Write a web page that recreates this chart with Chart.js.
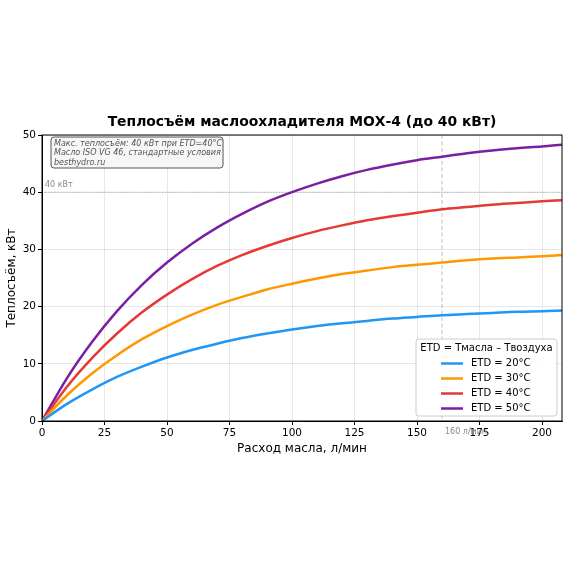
<!DOCTYPE html>
<html>
<head>
<meta charset="utf-8">
<script src="https://cdn.jsdelivr.net/npm/chart.js@4.4.0/dist/chart.umd.min.js"></script>
<style>
  html, body { margin: 0; padding: 0; background: #fff; }
  #wrap { width: 570px; height: 570px; position: relative; }
</style>
</head>
<body>
<div id="wrap"><canvas id="oilChart"></canvas></div>
<script>
// ===================== DATA =====================
const flowRates = [0, 10, 20, 30, 40, 50, 60, 70, 80, 90, 100, 110, 120, 130, 140, 150, 160, 170, 180, 190, 200, 208];
const etd20 = [0, 3.0, 5.5, 7.7, 9.5, 11.1, 12.4, 13.5, 14.5, 15.3, 16.0, 16.6, 17.1, 17.5, 17.9, 18.2, 18.5, 18.7, 18.9, 19.1, 19.2, 19.3];
const etd30 = [0, 4.5, 8.3, 11.5, 14.3, 16.6, 18.6, 20.3, 21.7, 23.0, 24.0, 24.9, 25.7, 26.3, 26.9, 27.3, 27.7, 28.1, 28.4, 28.6, 28.8, 29.0];
const etd40 = [0, 6.0, 11.0, 15.3, 19.0, 22.1, 24.8, 27.1, 29.0, 30.6, 32.0, 33.2, 34.2, 35.1, 35.8, 36.4, 37.0, 37.4, 37.8, 38.1, 38.4, 38.6];
const etd50 = [0, 7.5, 13.8, 19.2, 23.8, 27.7, 31.0, 33.8, 36.2, 38.3, 40.0, 41.5, 42.8, 43.9, 44.8, 45.6, 46.2, 46.8, 47.3, 47.7, 48.0, 48.3];
const seriesLabels = ["ETD = 20°C", "ETD = 30°C", "ETD = 40°C", "ETD = 50°C"];
const seriesColors = ["#2196F3", "#FF9800", "#E53935", "#7B1FA2"];
const maxLoad = 40;        // кВт
const nominalFlow = 160;   // л/мин
const xTicks = [0, 25, 50, 75, 100, 125, 150, 175, 200];
const yTicks = [0, 10, 20, 30, 40, 50];
const noteLines = [
  "Макс. теплосъём: 40 кВт при ETD=40°C",
  "Масло ISO VG 46, стандартные условия",
  "besthydro.ru"
];

const FONT = "'DejaVu Sans', sans-serif";

function toPoints(arr) {
  return flowRates.map((x, i) => ({ x: x, y: arr[i] }));
}

// ===================== EXTRAS (title, ref lines, note, legend, frame) =====================
const extrasPlugin = {
  id: "extras",
  beforeDatasetsDraw(chart) {
    const { ctx, chartArea: a, scales: { x, y } } = chart;
    ctx.save();
    // 40 kW dotted line
    const y40 = y.getPixelForValue(maxLoad);
    ctx.strokeStyle = "rgba(128,128,128,0.7)";
    ctx.lineWidth = 0.8;
    ctx.setLineDash([1.5, 1.5]);
    ctx.beginPath(); ctx.moveTo(a.left, y40); ctx.lineTo(a.right, y40); ctx.stroke();
    // 160 l/min dashed line
    const x160 = x.getPixelForValue(nominalFlow);
    ctx.strokeStyle = "rgba(128,128,128,0.5)";
    ctx.lineWidth = 1;
    ctx.setLineDash([4, 2.5]);
    ctx.beginPath(); ctx.moveTo(x160, a.top); ctx.lineTo(x160, a.bottom); ctx.stroke();
    ctx.restore();
  },
  afterDraw(chart) {
    const { ctx, chartArea: a, scales: { x, y } } = chart;
    ctx.save();
    // frame
    ctx.strokeStyle = "#000";
    ctx.lineWidth = 1;
    ctx.setLineDash([]);
    ctx.strokeRect(a.left, a.top, a.right - a.left, a.bottom - a.top);

    // title
    ctx.fillStyle = "#000";
    ctx.font = "bold 13.9px " + FONT;
    ctx.textAlign = "center";
    ctx.textBaseline = "middle";
    ctx.fillText("Теплосъём маслоохладителя МОХ-4 (до 40 кВт)", (a.left + a.right) / 2, 122);

    // reference labels
    ctx.fillStyle = "#888";
    ctx.font = "8px " + FONT;
    ctx.textAlign = "left";
    ctx.fillText("40 кВт", a.left + 3, y.getPixelForValue(maxLoad) - 7);
    ctx.fillText("160 л/мин", x.getPixelForValue(nominalFlow) + 3, a.bottom + 11);

    // note box
    const bx = a.left + 9, by = a.top + 2, bw = 172, bh = 31;
    ctx.beginPath();
    ctx.roundRect(bx, by, bw, bh, 3);
    ctx.fillStyle = "rgba(245,245,245,0.9)";
    ctx.fill();
    ctx.strokeStyle = "#555";
    ctx.lineWidth = 1;
    ctx.stroke();
    ctx.fillStyle = "#555";
    ctx.font = "italic 8px " + FONT;
    ctx.textBaseline = "middle";
    noteLines.forEach((t, i) => ctx.fillText(t, bx + 3, by + 6.5 + i * 9.5));

    // legend
    const lx = 416, ly = 339, lw = 141, lh = 77;
    ctx.beginPath();
    ctx.roundRect(lx, ly, lw, lh, 3);
    ctx.fillStyle = "rgba(255,255,255,0.9)";
    ctx.fill();
    ctx.strokeStyle = "#ccc";
    ctx.stroke();
    ctx.fillStyle = "#000";
    ctx.font = "10px " + FONT;
    ctx.textAlign = "center";
    ctx.fillText("ETD = Тмасла – Твоздуха", lx + lw / 2, ly + 9.5);
    ctx.textAlign = "left";
    seriesLabels.forEach((lab, i) => {
      const ry = ly + 24.5 + i * 15;
      ctx.strokeStyle = seriesColors[i];
      ctx.lineWidth = 2.5;
      ctx.beginPath(); ctx.moveTo(lx + 25, ry); ctx.lineTo(lx + 47, ry); ctx.stroke();
      ctx.fillStyle = "#000";
      ctx.fillText(lab, lx + 55, ry);
    });
    ctx.restore();
  }
};

// ===================== CHART =====================
const ctx = document.getElementById("oilChart").getContext("2d");
const oilChart = new Chart(ctx, {
  type: "line",
  data: {
    datasets: [etd20, etd30, etd40, etd50].map((arr, i) => ({
      label: seriesLabels[i],
      data: toPoints(arr),
      borderColor: seriesColors[i],
      backgroundColor: seriesColors[i],
      borderWidth: 2.5,
      pointRadius: 0,
      cubicInterpolationMode: "monotone",
      fill: false
    }))
  },
  options: {
    responsive: true,
    maintainAspectRatio: false,
    animation: false,
    layout: { padding: { left: 0, right: 8, top: 135, bottom: 114 } },
    plugins: {
      legend: { display: false },
      tooltip: { enabled: false }
    },
    scales: {
      x: {
        type: "linear",
        min: 0,
        max: 208,
        afterBuildTicks: (s) => { s.ticks = xTicks.map(v => ({ value: v })); },
        afterFit: (s) => { s.height = 35; },
        grid: { color: "rgba(176,176,176,0.3)", drawTicks: true, tickLength: 4, tickColor: "#000" },
        border: { color: "#000" },
        ticks: { color: "#000", font: { family: FONT, size: 10.5 }, padding: 2, maxRotation: 0 },
        title: { display: true, text: "Расход масла, л/мин", color: "#000", font: { family: FONT, size: 12 }, padding: 0 }
      },
      y: {
        min: 0,
        max: 50,
        afterBuildTicks: (s) => { s.ticks = yTicks.map(v => ({ value: v })); },
        afterFit: (s) => { s.width = 42; },
        grid: { color: "rgba(176,176,176,0.3)", drawTicks: true, tickLength: 4, tickColor: "#000" },
        border: { color: "#000" },
        ticks: { color: "#000", font: { family: FONT, size: 10.5 }, padding: 2 },
        title: { display: true, text: "Теплосъём, кВт", color: "#000", font: { family: FONT, size: 12 }, padding: { top: 5, bottom: 0 } }
      }
    }
  },
  plugins: [extrasPlugin]
});
</script>
</body>
</html>
